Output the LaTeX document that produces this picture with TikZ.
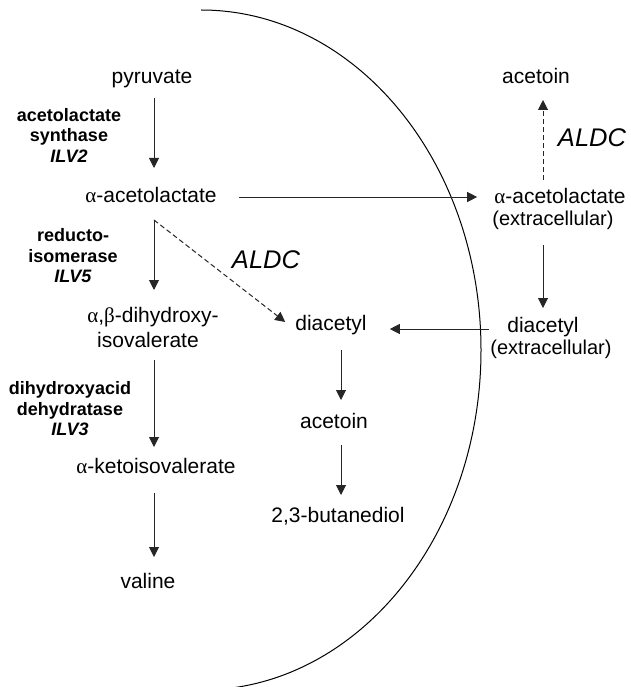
\documentclass[tikz,border=0pt]{standalone}
\usepackage{fontspec}
\setmainfont{Liberation Sans}
\newfontfamily\grk{Liberation Serif}
\usetikzlibrary{arrows.meta,calc}
\begin{document}
\begin{tikzpicture}[x=1pt,y=-1pt,
  txt/.style={font=\fontsize{21}{24}\selectfont, inner sep=0pt, text height=15pt, text depth=4.5pt},
  ext/.style={font=\fontsize{20}{23}\selectfont, inner sep=0pt, text height=14pt, text depth=4.3pt},
  enz/.style={font=\fontsize{18}{20.5}\selectfont\bfseries, align=center, inner sep=0pt},
  aldc/.style={font=\fontsize{25.5}{28}\selectfont\itshape, inner sep=0pt},
  arr/.style={draw=black!85, line width=1pt, -{Triangle[length=10pt,width=10pt]}},
  darr/.style={arr, dash pattern=on 5pt off 3pt},
  membrane/.style={draw=black, line width=1pt}]
\useasboundingbox (0,0) rectangle (630,687);
% membrane
\draw[membrane] (201,10) arc[start angle=90, end angle=-90, x radius=280pt, y radius=340pt];
% metabolites
\node[txt] (pyr) at (152,78) {pyruvate};
\node[txt] (aal) at (151,197) {{\grk α}-acetolactate};
\node[txt] (dh1) at (153,317) {{\grk α},{\grk β}-dihydroxy-};
\node[txt] (dh2) at (148,342) {isovalerate};
\node[txt] (kiv) at (156,468) {{\grk α}-ketoisovalerate};
\node[txt] (val) at (148,583) {valine};
\node[txt] (dia) at (331,325) {diacetyl};
\node[txt] (act) at (334,423) {acetoin};
\node[txt] (bdo) at (338,517) {2,3-butanediol};
\node[txt] (actx) at (536,78) {acetoin};
\node[txt] (aalx) at (560,198) {{\grk α}-acetolactate};
\node[ext] (ex1) at (553,221) {(extracellular)};
\node[txt] (diax) at (543,327) {diacetyl};
\node[ext] (ex2) at (551,350) {(extracellular)};
% enzymes
\node[enz] (e1) at (69,135) {acetolactate\\synthase\\\textit{ILV2}};
\node[enz] (e2) at (73,256) {reducto-\\isomerase\\\textit{ILV5}};
\node[enz] (e3) at (70,409) {dihydroxyacid\\dehydratase\\\textit{ILV3}};
\node[aldc] (al1) at (266,260) {ALDC};
\node[aldc] (al2) at (592,138) {ALDC};
% arrow columns
\coordinate (cL) at (154,0);
\coordinate (cM) at (341,0);
\coordinate (cR) at (543,0);
\draw[arr, shorten <=20pt, shorten >=29pt] (cL |- pyr) -- (cL |- aal);
\draw[arr, shorten <=23pt, shorten >=27pt] (cL |- aal) -- (cL |- dh1);
\draw[arr, shorten <=18pt, shorten >=21pt] (cL |- dh2) -- (cL |- kiv);
\draw[arr, shorten <=25pt, shorten >=26pt] (cL |- kiv) -- (cL |- val);
\draw[arr, shorten <=25pt, shorten >=23pt] (cM |- dia) -- (cM |- act);
\draw[arr, shorten <=22pt, shorten >=22pt] (cM |- act) -- (cM |- bdo);
\draw[arr, shorten <=24pt, shorten >=19pt] (cR |- ex1) -- (cR |- diax);
\draw[darr, shorten <=18pt, shorten >=22pt] (cR |- aalx) -- (cR |- actx);
\draw[arr, shorten <=22pt, shorten >=17pt] (aal.east) -- (aal.east -| aalx.west);
\draw[arr, shorten <=18pt, shorten >=23pt] ([yshift=-2pt]diax.west) -- ([yshift=-2pt]diax.west -| dia.east);
\coordinate (ds) at (154,220);
\draw[darr] (ds) -- ([xshift=-10pt,yshift=3pt]dia.west);
\end{tikzpicture}
\end{document}
